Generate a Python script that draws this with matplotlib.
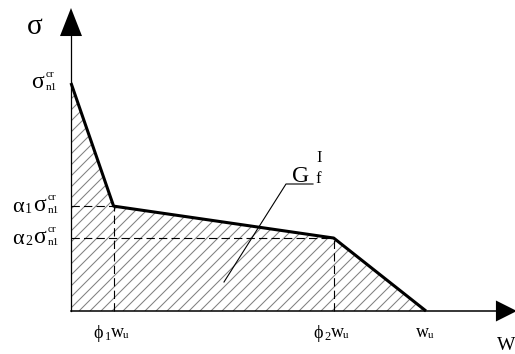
import numpy as np
import matplotlib
matplotlib.use("Agg")
import matplotlib.pyplot as plt
from matplotlib.patches import Polygon
from matplotlib.collections import LineCollection

plt.rcParams['font.family'] = ['Liberation Serif', 'DejaVu Serif']
plt.rcParams['lines.scale_dashes'] = False

# softening law: opening w (fraction of w_u) vs stress (fraction of sigma_n1^cr)
w_pts = [0.0, 0.12, 0.74, 1.0]
sig_pts = [1.0, 0.46, 0.32, 0.0]
phi1, phi2 = w_pts[1], w_pts[2]
alpha1, alpha2 = sig_pts[1], sig_pts[2]

# pixel scale of the drawing
PX_W = 355.0   # pixels per w_u
PX_S = 228.0   # pixels per sigma_n1^cr
X0, Y0 = 71.0, 311.0
W_IMG, H_IMG = 515, 354

fig = plt.figure(figsize=(W_IMG / 100, H_IMG / 100), dpi=100)
ax = fig.add_axes([0, 0, 1, 1])
ax.set_xlim(-X0 / PX_W, (W_IMG - X0) / PX_W)
ax.set_ylim(-(H_IMG - Y0) / PX_S, Y0 / PX_S)
ax.axis('off')

# hatched area under the curve
area = Polygon(list(zip([0.0] + w_pts, [0.0] + sig_pts)), closed=True,
               facecolor='none', edgecolor='none')
ax.add_patch(area)
segs = []
for c in np.arange(-300, 400, 11.0):
    # 45 degree lines in pixel space
    u = np.array([c, c + 300.0])
    v = u - c
    segs.append(list(zip(u / PX_W, v / PX_S)))
hatch = LineCollection(segs, colors='#808080', linewidths=0.75)
ax.add_collection(hatch)
hatch.set_clip_path(area)

# dashed guides
dash = dict(color='black', lw=0.8, dashes=(6, 3))
ax.plot([0, phi1], [alpha1, alpha1], **dash)
ax.plot([phi1, phi1], [0, alpha1], **dash)
ax.plot([0, phi2], [alpha2, alpha2], **dash)
ax.plot([phi2, phi2], [0, alpha2], **dash)

# axes with filled arrow heads
ax.plot([0, 0], [0, 1.21], color='black', lw=0.9)
ax.plot([0, 1.2], [0, 0], color='black', lw=1.1)
ax.fill([-11 / PX_W, 11 / PX_W, 0], [1.206, 1.206, 1.329], color='black', lw=0)
ax.fill([1.197, 1.197, 1.256], [-10.5 / PX_S, 10.5 / PX_S, 0], color='black', lw=0)

# softening curve
ax.plot(w_pts, sig_pts, color='black', lw=2.2, solid_capstyle='butt')


def put(x, y, dx, dy, text, size):
    # dx, dy in pixels (dy upward) from the data anchor
    ax.annotate(text, xy=(x, y), xytext=(dx * 0.72, dy * 0.72),
                textcoords='offset points', fontsize=size,
                ha='left', va='baseline')


def sigma_cr(x, y, dx):
    put(x, y, dx, -5, 'σ', 17)
    put(x, y, dx + 15, 6, 'cr', 8)
    put(x, y, dx + 15, -7, 'n1', 8)


# stress labels
sigma_cr(0, sig_pts[0], -40)
for a, idx in [(alpha1, '1'), (alpha2, '2')]:
    put(0, a, -59, -6, 'α', 16)
    put(0, a, -46, -7, idx, 10)
    sigma_cr(0, a, -38)

# opening labels
for p, idx in [(phi1, '1'), (phi2, '2')]:
    put(p, 0, -20, -27, 'ϕ', 13)
    put(p, 0, -9, -29, idx, 9)
    put(p, 0, -3, -26, 'w', 13)
    put(p, 0, 9, -27, 'u', 8)
put(w_pts[3], 0, -10, -26, 'w', 13)
put(w_pts[3], 0, 2, -27, 'u', 8)

# axis names
ax.text(27 / W_IMG, 1 - 34 / H_IMG, 'σ', transform=ax.transAxes,
        fontsize=21, ha='left', va='baseline')
ax.text(497 / W_IMG, 1 - 350 / H_IMG, 'W', transform=ax.transAxes,
        fontsize=14, ha='left', va='baseline')

# fracture energy label with leader line
gx, gy = (292 - X0) / PX_W, (Y0 - 182) / PX_S
ax.plot([(224 - X0) / PX_W, (286 - X0) / PX_W, (313 - X0) / PX_W],
        [(Y0 - 282) / PX_S, (Y0 - 184) / PX_S, (Y0 - 184) / PX_S],
        color='black', lw=0.8)
put(gx, gy, 0, 0, 'G', 17)
put(gx, gy, 24, 20, 'I', 12)
put(gx, gy, 23, -1, 'f', 12)

fig.savefig('out.png', dpi=100)
